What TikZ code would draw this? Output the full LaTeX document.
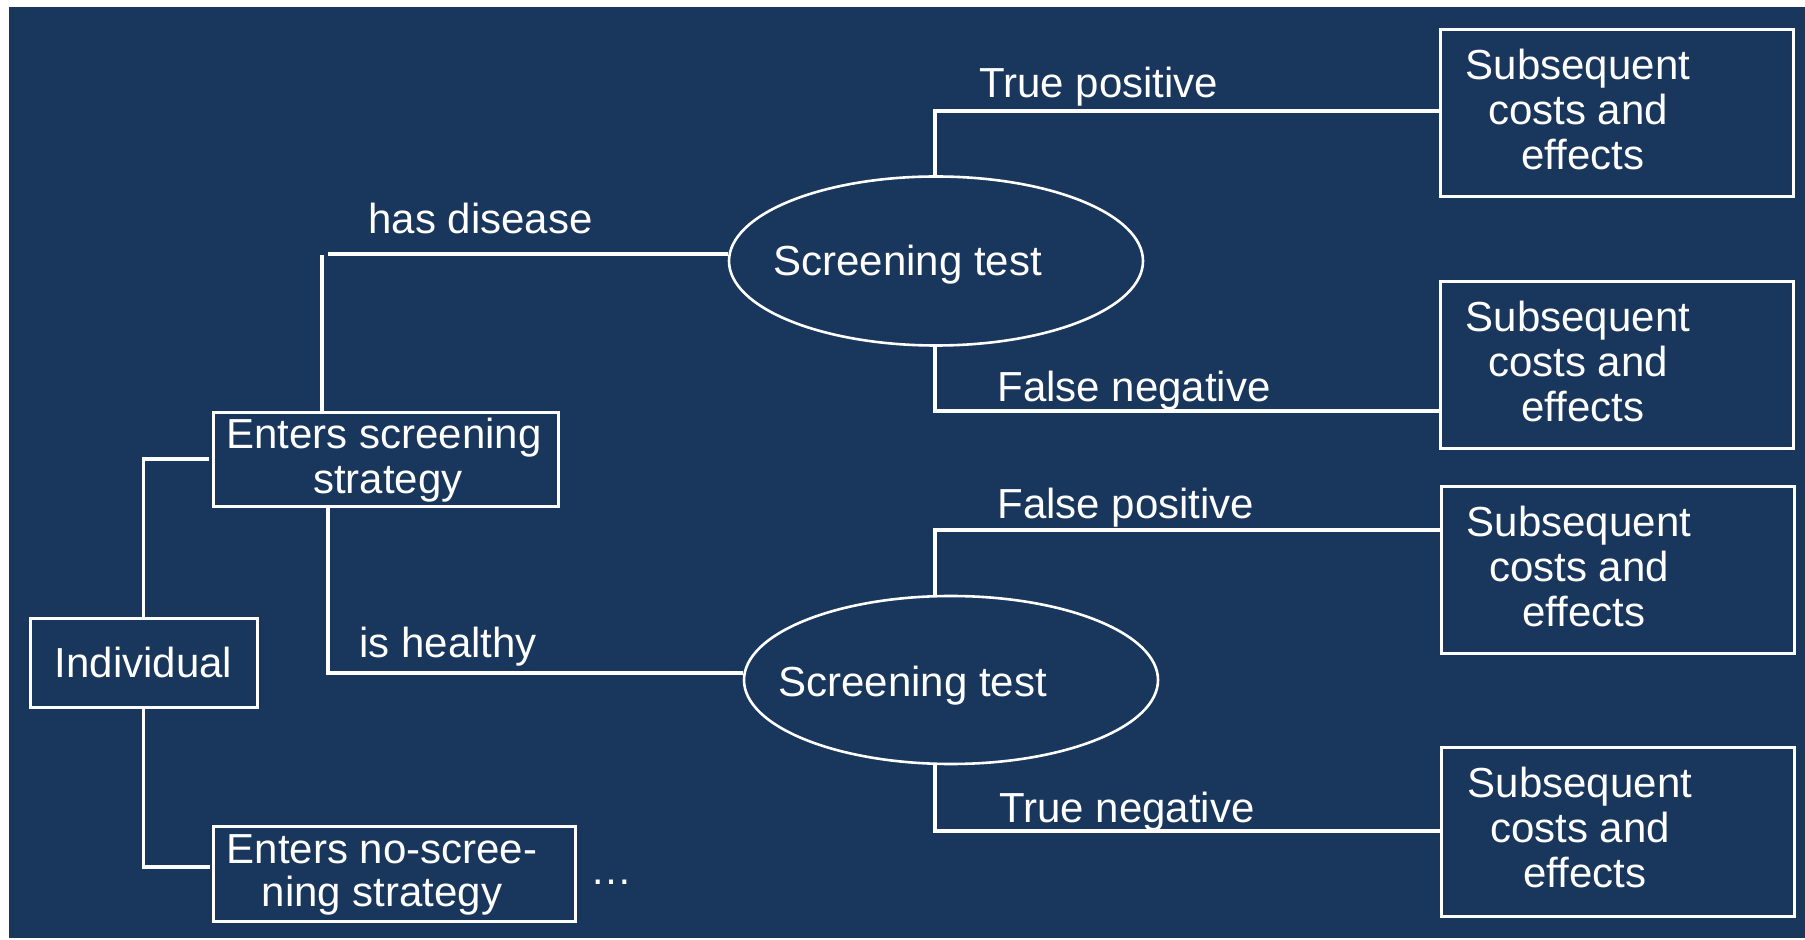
\documentclass[tikz,border=0pt]{standalone}
\usepackage{fontspec}
\setmainfont{Liberation Sans}
\usetikzlibrary{shapes.geometric}
\definecolor{navy}{RGB}{25,54,93}
\newcommand\subsq{\begin{tabular}[t]{@{}c@{}}Subsequent\\costs and\\\hspace*{5pt}effects\end{tabular}}
\begin{document}
\begin{tikzpicture}[x=0.5pt,y=-0.5pt,
  ln/.style={draw=white,line width=1.6pt},
  boxn/.style={draw=white,line width=1.5pt,inner sep=0pt,rectangle},
  outbox/.style={boxn,minimum width=176.5pt,minimum height=83.5pt},
  ell/.style={draw=white,line width=1.3pt,ellipse,inner sep=0pt,minimum width=207pt,minimum height=84.5pt},
  txt/.style={text=white,inner sep=0pt,font=\fontsize{21pt}{22.5pt}\selectfont},
]
\fill[white] (0,0) rectangle (1805,940);
\useasboundingbox (0,0) rectangle (1805,940);
\fill[navy] (9,7) rectangle (1805,938);

% boxes
\node[boxn,minimum width=113.5pt,minimum height=44.5pt] (ind) at (143.5,663.5) {};
\node[boxn,minimum width=172.5pt,minimum height=47pt] (scr) at (385.5,460) {};
\node[boxn,minimum width=181pt,minimum height=47.5pt] (nos) at (394,873.5) {};
\node[outbox] (b1) at (1616.5,113.5) {};
\node[outbox] (b2) at (1616.5,365.5) {};
\node[outbox] (b3) at (1617.5,570.5) {};
\node[outbox,minimum height=84.5pt] (b4) at (1617.5,831.5) {};

% ellipses
\node[ell] (e1) at (936,261) {};
\node[ell,minimum height=84pt] (e2) at (951,680) {};

% box texts
\node[txt,anchor=base] (tind) at (143.5,678) {Individual};
\node[txt,anchor=base] (tscr) at (384,449) {\begin{tabular}[t]{@{}c@{}}Enters screening\\\hspace*{4pt}strategy\end{tabular}};
\node[txt,anchor=base,font=\fontsize{21pt}{21.5pt}\selectfont] (tnos) at (382,863) {\begin{tabular}[t]{@{}c@{}}Enters no-scree-\\ning strategy\end{tabular}};
\node[txt,anchor=base] (tb1) at (1578,80) {\subsq};
\node[txt,anchor=base] (tb2) at (1578,332) {\subsq};
\node[txt,anchor=base] (tb3) at (1579,537) {\subsq};
\node[txt,anchor=base] (tb4) at (1580,797) {\subsq};
\node[txt,anchor=base west] (te1) at (773,276) {Screening test};
\node[txt,anchor=base west] (te2) at (778,697) {Screening test};
\node[txt,anchor=base west] (dots) at (590,884) {…};

% branch labels
\node[txt,anchor=base west] (ltp) at (979,98) {True positive};
\node[txt,anchor=base west] (lhd) at (368,234) {has disease};
\node[txt,anchor=base west] (lfn) at (997,402) {False negative};
\node[txt,anchor=base west] (lfp) at (997,519) {False positive};
\node[txt,anchor=base west] (ltn) at (999,822) {True negative};
\node[txt,anchor=base west] (lih) at (359,658) {is healthy};

% helper coordinates for line corners
\coordinate (k2) at (210,867);
\coordinate (k1) at (209,459);
\coordinate (hdv) at (322,255);
\coordinate (hdh) at (328,254);
\coordinate (k4) at (328,673);
\coordinate (k5) at (935,111);
\coordinate (k6) at (935,411);
\coordinate (k7) at (935,530);
\coordinate (k8) at (935,831);

% connectors
\draw[ln] (ind.north) |- (k1);
\draw[ln] (ind.south) |- (k2);
\draw[ln] (scr.north -| hdv) -- (hdv);
\draw[ln] (hdh) -- (hdh -| e1.west);
\draw[ln] (scr.south -| k4) -- (k4) -- (k4 -| e2.west);
\draw[ln] (e1.north -| k5) -- (k5) -- (k5 -| b1.west);
\draw[ln] (e1.south -| k6) -- (k6) -- (k6 -| b2.west);
\draw[ln] (e2.north -| k7) -- (k7) -- (k7 -| b3.west);
\draw[ln] (e2.south -| k8) -- (k8) -- (k8 -| b4.west);
\end{tikzpicture}
\end{document}
